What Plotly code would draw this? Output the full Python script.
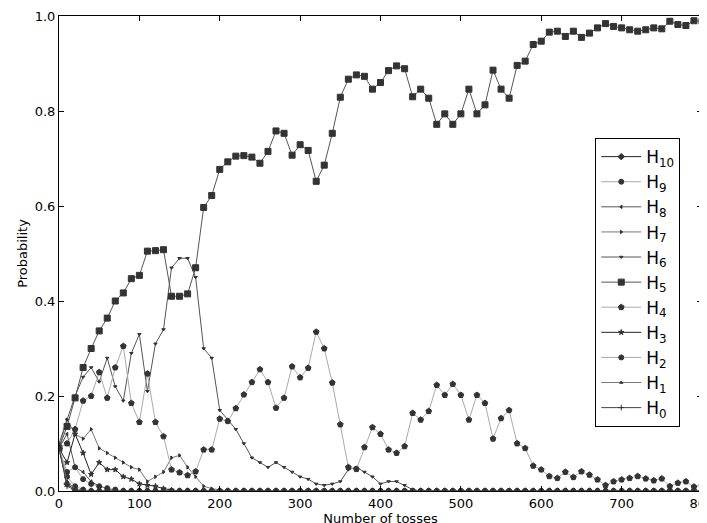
import plotly.graph_objects as go

# tosses sampled every 10
tosses = list(range(0, 801, 10))
n = len(tosses)

h5 = [0.09, 0.136, 0.196, 0.26, 0.30, 0.337, 0.364, 0.40, 0.417, 0.447, 0.454,
      0.505, 0.506, 0.508, 0.41, 0.41, 0.415, 0.47, 0.597, 0.622, 0.677,
      0.693, 0.705, 0.706, 0.703, 0.69, 0.715, 0.758, 0.753, 0.707, 0.729,
      0.717, 0.652, 0.686, 0.753, 0.829, 0.867, 0.876, 0.873, 0.846, 0.86,
      0.885, 0.895, 0.889, 0.83, 0.846, 0.827, 0.772, 0.794, 0.772, 0.794,
      0.846, 0.794, 0.813, 0.886, 0.846, 0.827, 0.896, 0.905, 0.94, 0.947,
      0.966, 0.968, 0.957, 0.968, 0.955, 0.964, 0.975, 0.984, 0.978, 0.975,
      0.971, 0.968, 0.971, 0.975, 0.973, 0.989, 0.982, 0.98, 0.99, 0.989]
h4 = [0.09, 0.10, 0.13, 0.19, 0.20, 0.25, 0.196, 0.26, 0.305, 0.185, 0.145,
      0.247, 0.145, 0.115, 0.045, 0.039, 0.033, 0.041, 0.087, 0.087, 0.152,
      0.147, 0.174, 0.203, 0.229, 0.256, 0.229, 0.175, 0.196, 0.262, 0.239,
      0.259, 0.335, 0.30, 0.228, 0.14, 0.05, 0.046, 0.092, 0.134, 0.12,
      0.087, 0.08, 0.094, 0.164, 0.15, 0.168, 0.223, 0.202, 0.225, 0.202,
      0.15, 0.202, 0.185, 0.11, 0.153, 0.17, 0.10, 0.09, 0.053, 0.045,
      0.031, 0.027, 0.04, 0.029, 0.041, 0.034, 0.024, 0.012, 0.02, 0.024,
      0.027, 0.031, 0.026, 0.022, 0.026, 0.01, 0.017, 0.02, 0.009, 0.012]
h6 = [0.10, 0.15, 0.20, 0.24, 0.26, 0.23, 0.28, 0.22, 0.19, 0.29, 0.33,
      0.21, 0.31, 0.34, 0.47, 0.49, 0.49, 0.45, 0.30, 0.28, 0.17,
      0.15, 0.13, 0.10, 0.07, 0.06, 0.05, 0.06, 0.05, 0.04, 0.03,
      0.025, 0.015, 0.012, 0.015, 0.02, 0.045, 0.05, 0.04, 0.03, 0.015,
      0.02, 0.02, 0.012, 0.003] + [0.0] * 36
h7 = [0.09, 0.15, 0.12, 0.11, 0.13, 0.09, 0.08, 0.07, 0.06, 0.05, 0.045,
      0.02, 0.03, 0.04, 0.07, 0.075, 0.05, 0.03, 0.01, 0.005, 0.002] + [0.0] * 60
h3 = [0.09, 0.06, 0.12, 0.08, 0.035, 0.06, 0.045, 0.045, 0.03, 0.025, 0.015,
      0.012, 0.01, 0.005, 0.002] + [0.0] * 66
h2 = [0.09, 0.04, 0.05, 0.025, 0.015, 0.01, 0.006, 0.003] + [0.0] * 73
h8 = [0.09, 0.12, 0.05, 0.04, 0.02, 0.01, 0.005] + [0.0] * 74
h9 = [0.09, 0.03, 0.01, 0.003] + [0.0] * 77
h1 = [0.09, 0.02, 0.005] + [0.0] * 78
h0 = [0.09, 0.01, 0.002] + [0.0] * 78
h10 = [0.09, 0.015, 0.003] + [0.0] * 78

series = [
    ("H<sub>10</sub>", h10, "diamond", "#222222", 5),
    ("H<sub>9</sub>", h9, "circle", "#aaaaaa", 5),
    ("H<sub>8</sub>", h8, "triangle-left", "#555555", 3),
    ("H<sub>7</sub>", h7, "triangle-right", "#777777", 3),
    ("H<sub>6</sub>", h6, "triangle-down", "#555555", 3),
    ("H<sub>5</sub>", h5, "square", "#555555", 6),
    ("H<sub>4</sub>", h4, "pentagon", "#aaaaaa", 6),
    ("H<sub>3</sub>", h3, "star", "#222222", 4),
    ("H<sub>2</sub>", h2, "circle", "#aaaaaa", 5),
    ("H<sub>1</sub>", h1, "triangle-up", "#777777", 3),
    ("H<sub>0</sub>", h0, "cross-thin", "#444444", 4),
]

fig = go.Figure()
for name, ys, sym, col, sz in series:
    fig.add_trace(go.Scatter(
        x=tosses, y=ys, name=name, mode="lines+markers",
        line=dict(color=col, width=1),
        marker=dict(symbol=sym, size=sz, color="#333333",
                    line=dict(color="#333333", width=1)),
    ))

axis = dict(showgrid=False, zeroline=False, showline=True, mirror="ticks",
            linecolor="black", linewidth=1, ticks="inside", ticklen=5,
            tickcolor="black", tickfont=dict(size=13, color="black"),
            automargin=False)

fig.update_layout(
    width=707, height=523,
    margin=dict(l=51, r=13, t=8, b=40),
    plot_bgcolor="white", paper_bgcolor="white",
    font=dict(family="DejaVu Sans", size=12, color="black"),
    xaxis=dict(axis, range=[0, 800], dtick=100,
               title=dict(text="Number of tosses", standoff=2, font=dict(size=13))),
    yaxis=dict(axis, range=[0, 1.0], dtick=0.2, tickformat=".1f",
               title=dict(text="Probability", standoff=4, font=dict(size=13))),
    legend=dict(x=0.834, y=0.743, xanchor="left", yanchor="top",
                bordercolor="black", borderwidth=1, bgcolor="white",
                font=dict(size=17), tracegroupgap=0, itemwidth=40),
)

fig.write_html("out.html")
